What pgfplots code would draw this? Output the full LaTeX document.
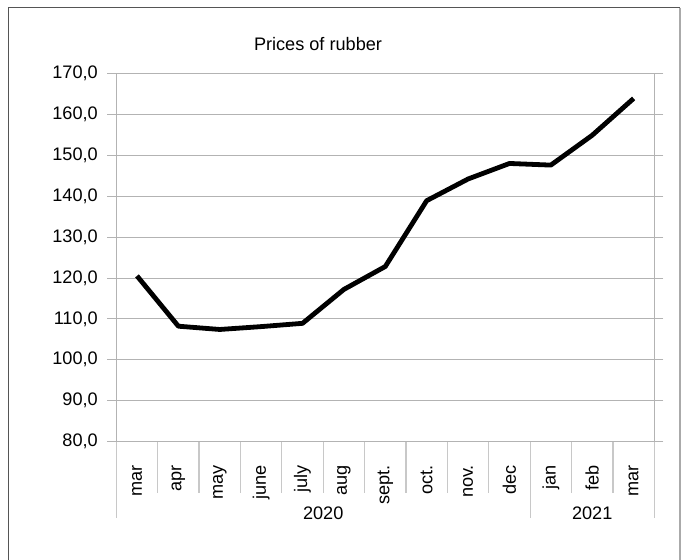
\documentclass[border=0pt]{standalone}
\usepackage{fontspec}
\setmainfont{Liberation Sans}
\usepackage{pgfplots}
\pgfplotsset{compat=1.18}
\definecolor{gridgray}{RGB}{179,179,179}
\definecolor{sepgray}{RGB}{200,200,200}
\definecolor{framedark}{RGB}{85,85,85}
\definecolor{framelight}{RGB}{170,170,170}
\newcommand{\chartfont}{\fontsize{18.2}{22}\selectfont}
\pgfplotstableread{
x y
0 120.5
1 108.2
2 107.4
3 108.1
4 108.9
5 117.2
6 122.8
7 138.9
8 144.2
9 148.0
10 147.6
11 154.9
12 163.9
}\rubber
\begin{document}
\begin{tikzpicture}
\path[use as bounding box] (0,0) rectangle (681bp,-560bp);
\draw[framedark, line width=1.2bp] (8.5bp,-560bp) -- (8.5bp,-7.5bp) -- (680bp,-7.5bp);
\draw[framelight, line width=1.2bp] (680bp,-7.5bp) -- (680bp,-560bp);
\node[anchor=base, font=\chartfont] at (318bp,-50bp) {Prices of rubber};
\begin{axis}[
  at={(116.3bp,-441.5bp)}, anchor=south west,
  scale only axis, width=538bp, height=368bp,
  xmin=-0.5, xmax=12.5, ymin=80, ymax=170,
  ytick={80,90,...,170},
  yticklabels={{80,0},{90,0},{100,0},{110,0},{120,0},{130,0},{140,0},{150,0},{160,0},{170,0}},
  xtick={0,...,12},
  xticklabels={mar,apr,may,june,july,aug,sept.,oct.,nov.,dec,jan,feb,mar},
  ymajorgrids,
  grid style={gridgray, line width=0.9bp},
  axis line style={gridgray, line width=0.9bp},
  tick align=outside, major tick length=9bp,
  ytick style={gridgray, line width=0.9bp},
  xtick style={draw=none},
  xticklabel style={yshift=-11bp, rotate=90, anchor=east},
  yticklabel style={xshift=-6bp},
  tick label style={font=\chartfont},
  clip=false,
]
\pgfplotsinvokeforeach{-0.5,0.5,1.5,2.5,3.5,4.5,5.5,6.5,7.5,8.5,10.5,11.5}{
  \draw[sepgray, line width=1.2bp] (axis cs:#1,80) -- ++(0pt,-51.5bp);
}
\pgfplotsinvokeforeach{-0.5,9.5,12.5}{
  \draw[sepgray, line width=1.2bp] (axis cs:#1,80) -- ++(0pt,-76.5bp);
}
\node[anchor=base, font=\chartfont] at ([yshift=-77.5bp]axis cs:4.5,80) {2020};
\node[anchor=base, font=\chartfont] at ([yshift=-77.5bp]axis cs:11,80) {2021};
\addplot[black, line width=4.8bp, line join=round, no markers] table[x=x, y=y] {\rubber};
\end{axis}
\end{tikzpicture}
\end{document}
